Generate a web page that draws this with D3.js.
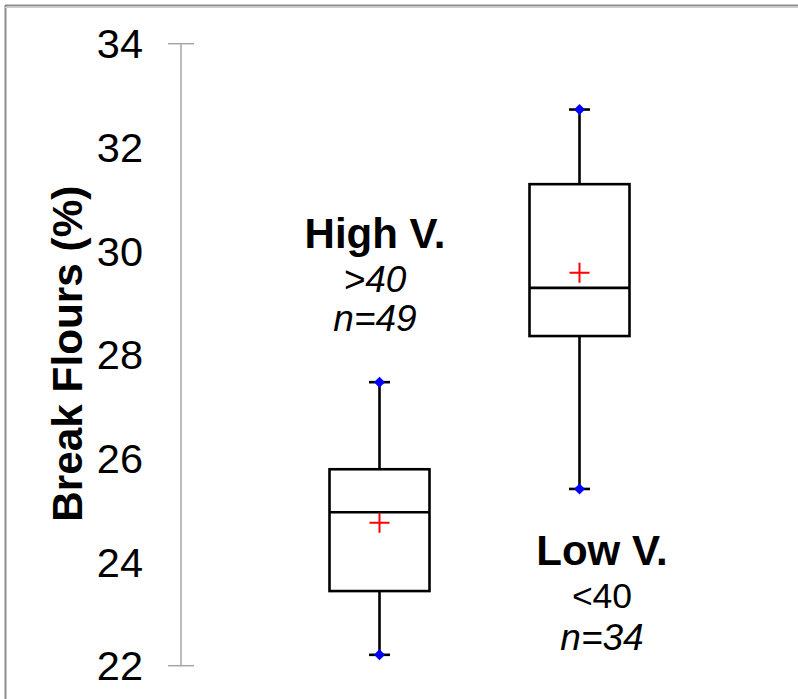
<!DOCTYPE html>
<html>
<head>
<meta charset="utf-8">
<script src="https://cdn.jsdelivr.net/npm/d3@7"></script>
<style>
  html, body { margin: 0; padding: 0; background: #fff; }
  svg { display: block; font-family: "Liberation Sans", Arial, sans-serif; }
</style>
</head>
<body>
<svg id="chart" width="798" height="699"></svg>
<script>
// ---- data ----
const categories = ["High V.", "Low V."];
const mins    = [22.21, 25.41];
const q1s     = [23.44, 28.36];
const medians = [24.96, 29.29];
const q3s     = [25.79, 31.29];
const maxs    = [27.47, 32.73];
const means   = [24.76, 29.58];
const thresholds = [">40", "<40"];
const counts  = [49, 34];
const yTicks  = [22, 24, 26, 28, 30, 32, 34];
const yTitle  = "Break Flours (%)";

// ---- layout ----
const svg = d3.select("#chart");
const W = 798, H = 699;

const y = d3.scaleLinear().domain([22, 34]).range([665.7, 43.7]);
const x = d3.scalePoint().domain(categories).range([379.5, 579.5]);
const boxW = 100, capW = 21;

// frame
svg.append("line").attr("x1", 5).attr("x2", W).attr("y1", 5.5).attr("y2", 5.5)
  .attr("stroke", "#8c8c8c").attr("stroke-width", 2);
svg.append("line").attr("x1", 5.5).attr("x2", 5.5).attr("y1", 5).attr("y2", H)
  .attr("stroke", "#8c8c8c").attr("stroke-width", 2);
svg.append("line").attr("x1", 5).attr("x2", W).attr("y1", 7.5).attr("y2", 7.5)
  .attr("stroke", "#d0d0d0").attr("stroke-width", 1);

// y axis (labels via d3 axis)
const axisX = 181;
const ax = svg.append("g").attr("transform", `translate(${axisX - 38},0)`)
  .call(d3.axisLeft(y).tickValues(yTicks).tickSize(0).tickPadding(0).tickFormat(d3.format("d")));
ax.select(".domain").remove();
ax.selectAll("text").attr("font-size", 41.5).attr("fill", "#000")
  .attr("font-family", "'Liberation Sans', Arial, sans-serif").attr("dy", "0.34em");

svg.append("line").attr("x1", axisX).attr("x2", axisX)
  .attr("y1", y(34)).attr("y2", y(22)).attr("stroke", "#a6a6a6").attr("stroke-width", 1.5);
[22, 34].forEach(v => {
  svg.append("line").attr("x1", axisX - 13).attr("x2", axisX + 13)
    .attr("y1", y(v)).attr("y2", y(v)).attr("stroke", "#a6a6a6").attr("stroke-width", 1.5);
});

// y title
svg.append("text")
  .attr("transform", `translate(82,${(y(22) + y(34)) / 2 - 1}) rotate(-90)`)
  .attr("text-anchor", "middle").attr("font-weight", "bold").attr("font-size", 42.3)
  .attr("fill", "#000").text(yTitle);

// boxes
const data = categories.map((c, i) => ({
  c, min: mins[i], q1: q1s[i], med: medians[i], q3: q3s[i], max: maxs[i], mean: means[i]
}));

const g = svg.selectAll("g.box").data(data).join("g").attr("class", "box");
const sw = 2.6;
// whiskers
g.append("line").attr("x1", d => x(d.c)).attr("x2", d => x(d.c))
  .attr("y1", d => y(d.max)).attr("y2", d => y(d.q3)).attr("stroke", "#000").attr("stroke-width", sw);
g.append("line").attr("x1", d => x(d.c)).attr("x2", d => x(d.c))
  .attr("y1", d => y(d.q1)).attr("y2", d => y(d.min)).attr("stroke", "#000").attr("stroke-width", sw);
// caps
["max", "min"].forEach(k => {
  g.append("line").attr("x1", d => x(d.c) - capW / 2).attr("x2", d => x(d.c) + capW / 2)
    .attr("y1", d => y(d[k])).attr("y2", d => y(d[k])).attr("stroke", "#000").attr("stroke-width", sw);
});
// box
g.append("rect").attr("x", d => x(d.c) - boxW / 2).attr("width", boxW)
  .attr("y", d => y(d.q3)).attr("height", d => y(d.q1) - y(d.q3))
  .attr("fill", "none").attr("stroke", "#000").attr("stroke-width", sw);
// median
g.append("line").attr("x1", d => x(d.c) - boxW / 2).attr("x2", d => x(d.c) + boxW / 2)
  .attr("y1", d => y(d.med)).attr("y2", d => y(d.med)).attr("stroke", "#000").attr("stroke-width", sw);
// mean cross
const cs = 10;
g.append("path").attr("d", d => `M${x(d.c) - cs},${y(d.mean)}H${x(d.c) + cs}M${x(d.c)},${y(d.mean) - cs}V${y(d.mean) + cs}`)
  .attr("stroke", "#ff0000").attr("stroke-width", 2).attr("fill", "none");
// diamonds at whisker ends
const diamond = d3.symbol().type(d3.symbolSquare).size(60);
["max", "min"].forEach(k => {
  g.append("path").attr("d", diamond)
    .attr("transform", d => `translate(${x(d.c)},${y(d[k])}) rotate(45)`)
    .attr("fill", "#0000ff");
});

// annotations
const ann = svg.append("g").attr("fill", "#000").attr("text-anchor", "middle");
// High V. group (above first box)
const hx = x(categories[0]) - 4.5;
ann.append("text").attr("x", hx).attr("y", 247.5).attr("font-size", 42).attr("font-weight", "bold").text(categories[0]);
ann.append("text").attr("x", hx).attr("y", 291.5).attr("font-size", 37).attr("font-style", "italic").text(thresholds[0]);
ann.append("text").attr("x", hx).attr("y", 331).attr("font-size", 37).attr("font-style", "italic").text("n=" + counts[0]);
// Low V. group (below second box)
const lx = x(categories[1]) + 22.5;
ann.append("text").attr("x", lx).attr("y", 565).attr("font-size", 42).attr("font-weight", "bold").text(categories[1]);
ann.append("text").attr("x", lx).attr("y", 608).attr("font-size", 35.5).text(thresholds[1]);
ann.append("text").attr("x", lx).attr("y", 650).attr("font-size", 37).attr("font-style", "italic").text("n=" + counts[1]);
</script>
</body>
</html>
